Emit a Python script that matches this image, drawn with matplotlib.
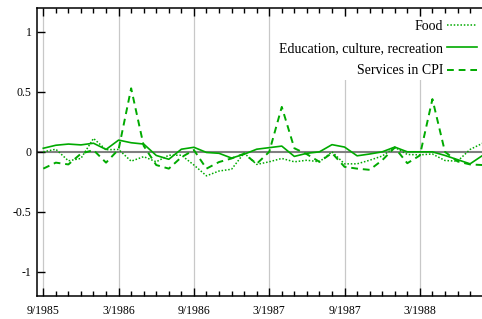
import matplotlib
matplotlib.use("Agg")
import matplotlib.pyplot as plt
from matplotlib.ticker import MultipleLocator, FixedLocator

months = ["9/1985", "10/1985", "11/1985", "12/1985", "1/1986", "2/1986", "3/1986", "4/1986",
          "5/1986", "6/1986", "7/1986", "8/1986", "9/1986", "10/1986", "11/1986", "12/1986",
          "1/1987", "2/1987", "3/1987", "4/1987", "5/1987", "6/1987", "7/1987", "8/1987",
          "9/1987", "10/1987", "11/1987", "12/1987", "1/1988", "2/1988", "3/1988", "4/1988",
          "5/1988", "6/1988", "7/1988", "8/1988"]

food = [0.0, 0.022, -0.075, -0.055, 0.112, 0.018, 0.02, -0.078, -0.04, -0.083, -0.028, -0.028,
        -0.11, -0.2, -0.16, -0.145, -0.01, -0.105, -0.083, -0.055, -0.083, -0.07, -0.083, 0.0,
        -0.1, -0.1, -0.07, -0.035, 0.038, -0.022, -0.025, -0.018, -0.072, -0.078, 0.02, 0.072]

education = [0.03, 0.055, 0.065, 0.058, 0.072, 0.02, 0.098, 0.076, 0.065, -0.03, -0.062, 0.022,
             0.038, -0.005, -0.012, -0.052, -0.02, 0.022, 0.035, 0.048, -0.038, -0.012, 0.0, 0.06,
             0.04, -0.033, -0.018, 0.0, 0.04, 0.0, 0.0, 0.0, -0.03, -0.065, -0.1, -0.03]

services = [-0.14, -0.09, -0.105, -0.015, 0.015, -0.09, 0.02, 0.53, 0.05, -0.11, -0.14, -0.045,
            0.015, -0.14, -0.085, -0.055, -0.015, -0.1, 0.0, 0.375, 0.03, -0.02, -0.083, -0.01,
            -0.125, -0.14, -0.15, -0.07, 0.036, -0.095, -0.03, 0.44, 0.0, -0.08, -0.105, -0.11]

yticks = [-1, -0.5, 0, 0.5, 1]
ytick_labels = ["-1", "-0.5", "0", "0.5", "1"]

plt.rcParams['font.family'] = ['Liberation Serif', 'DejaVu Serif']
plt.rcParams['font.size'] = 8.5

green = '#00aa00'

fig = plt.figure(figsize=(4.82, 3.19), dpi=100)
ax = fig.add_axes([37/482, 1-295.7/319, 1-37/482, (295.7-8)/319])

x = list(range(len(months)))
major_idx = [i for i in x if i % 6 == 0]

for i in major_idx:
    ax.axvline(i, color='#c8c8c8', lw=0.9, zorder=0)
ax.axhline(0, color='#808080', lw=1.5, zorder=1)

ax.plot(x, food, color=green, lw=1.1, ls=(0, (1, 1.2)), label='Food', zorder=3)
ax.plot(x, education, color=green, lw=1.2, ls='-', label='Education, culture, recreation', zorder=3)
ax.plot(x, services, color=green, lw=1.4, ls=(0, (3.5, 2.5)), label='Services in CPI', zorder=3)

ax.set_xlim(-0.5, 34.95)
ax.set_ylim(-1.2, 1.2)

ax.xaxis.set_major_locator(FixedLocator(major_idx))
ax.set_xticklabels([months[i] for i in major_idx])
ax.xaxis.set_minor_locator(MultipleLocator(1))
ax.set_yticks(yticks)
ax.set_yticklabels(ytick_labels)

ax.tick_params(axis='x', which='major', direction='in', length=6, width=1, top=True, pad=6.5)
ax.tick_params(axis='x', which='minor', direction='in', length=3.5, width=1, top=True)
ax.tick_params(axis='y', which='major', direction='in', length=6, width=1, right=False, pad=4)

for s in ['left', 'top', 'bottom']:
    ax.spines[s].set_linewidth(1.1)
ax.spines['right'].set_visible(False)

leg = ax.legend(loc='upper right', bbox_to_anchor=(1.0, 0.975), markerfirst=False, frameon=True,
                facecolor='white', edgecolor='none', framealpha=1, fancybox=False,
                fontsize=10, handlelength=2.15, handletextpad=0.3, labelspacing=0.66,
                borderaxespad=0.15, borderpad=0.2)
leg.set_zorder(2)

fig.savefig('out.png', dpi=100)
